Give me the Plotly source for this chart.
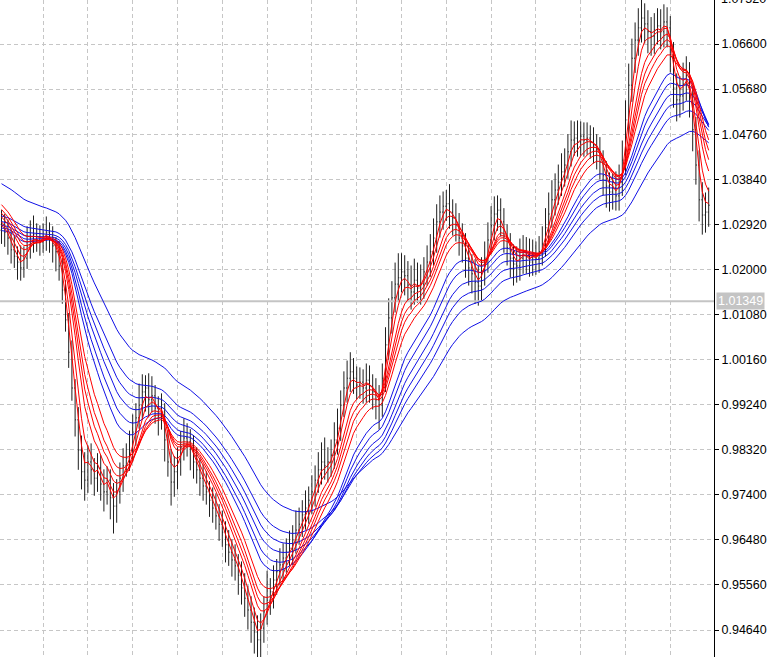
import plotly.graph_objects as go

# ---------------- data ----------------
opens = [
    1.0280, 1.0291, 1.0276, 1.0264, 1.0240, 1.0227, 1.0215, 1.0203, 1.0223, 1.0248,
    1.0264, 1.0272, 1.0260, 1.0256, 1.0268, 1.0276, 1.0260, 1.0248, 1.0236, 1.0207,
    1.0158, 1.0097, 1.0031, 0.9958, 0.9893, 0.9831, 0.9787, 0.9770, 0.9807, 0.9791,
    0.9774, 0.9795, 0.9762, 0.9746, 0.9770, 0.9734, 0.9717, 0.9746, 0.9774, 0.9799,
    0.9815, 0.9831, 0.9868, 0.9897, 0.9923, 0.9950, 0.9958, 0.9934, 0.9942, 0.9917,
    0.9901, 0.9909, 0.9852, 0.9807, 0.9766, 0.9787, 0.9807, 0.9836, 0.9856, 0.9848,
    0.9840, 0.9807, 0.9791, 0.9774, 0.9758, 0.9746, 0.9729, 0.9713, 0.9697, 0.9680,
    0.9664, 0.9638, 0.9623, 0.9607, 0.9595, 0.9576, 0.9550, 0.9529, 0.9505, 0.9480,
    0.9460, 0.9444, 0.9468, 0.9501, 0.9525, 0.9542, 0.9566, 0.9583, 0.9597, 0.9611,
    0.9623, 0.9631, 0.9648, 0.9668, 0.9680, 0.9699, 0.9713, 0.9729, 0.9746, 0.9770,
    0.9791, 0.9807, 0.9799, 0.9807, 0.9821, 0.9852, 0.9876, 0.9923, 0.9958, 0.9978,
    0.9991, 0.9978, 0.9964, 0.9970, 0.9958, 0.9974, 0.9962, 0.9950, 0.9934, 0.9923,
    0.9978, 1.0046, 1.0101, 1.0142, 1.0170, 1.0183, 1.0195, 1.0187, 1.0168, 1.0154,
    1.0178, 1.0162, 1.0170, 1.0195, 1.0215, 1.0236, 1.0264, 1.0297, 1.0317, 1.0329,
    1.0334, 1.0317, 1.0305, 1.0291, 1.0264, 1.0248, 1.0223, 1.0203, 1.0191, 1.0174,
    1.0166, 1.0195, 1.0223, 1.0260, 1.0289, 1.0313, 1.0321, 1.0297, 1.0268, 1.0244,
    1.0223, 1.0211, 1.0207, 1.0223, 1.0236, 1.0227, 1.0215, 1.0231, 1.0223, 1.0236,
    1.0252, 1.0285, 1.0313, 1.0342, 1.0362, 1.0378, 1.0399, 1.0413, 1.0440, 1.0464,
    1.0468, 1.0460, 1.0472, 1.0464, 1.0468, 1.0460, 1.0452, 1.0444, 1.0419, 1.0391,
    1.0370, 1.0358, 1.0366, 1.0350, 1.0378, 1.0423, 1.0505, 1.0576, 1.0631, 1.0668,
    1.0693, 1.0713, 1.0701, 1.0685, 1.0676, 1.0689, 1.0697, 1.0685, 1.0705, 1.0693,
    1.0638, 1.0570, 1.0546, 1.0554, 1.0578, 1.0595, 1.0550, 1.0485, 1.0413, 1.0342,
    1.0311, 1.0317,
]
highs = [
    1.0321, 1.0313, 1.0302, 1.0282, 1.0270, 1.0247, 1.0249, 1.0247, 1.0288, 1.0300,
    1.0310, 1.0294, 1.0290, 1.0294, 1.0308, 1.0296, 1.0288, 1.0266, 1.0258, 1.0223,
    1.0178, 1.0111, 1.0055, 0.9976, 0.9919, 0.9861, 0.9827, 0.9841, 0.9845, 0.9815,
    0.9825, 0.9821, 0.9792, 0.9798, 0.9792, 0.9764, 0.9772, 0.9806, 0.9835, 0.9845,
    0.9871, 0.9904, 0.9927, 0.9967, 0.9986, 0.9984, 0.9988, 0.9982, 0.9964, 0.9941,
    0.9947, 0.9927, 0.9872, 0.9833, 0.9819, 0.9837, 0.9870, 0.9896, 0.9886, 0.9874,
    0.9862, 0.9837, 0.9815, 0.9802, 0.9788, 0.9768, 0.9755, 0.9743, 0.9721, 0.9708,
    0.9686, 0.9668, 0.9649, 0.9639, 0.9619, 0.9604, 0.9580, 0.9555, 0.9533, 0.9510,
    0.9494, 0.9498, 0.9533, 0.9585, 0.9570, 0.9596, 0.9609, 0.9631, 0.9641, 0.9651,
    0.9667, 0.9678, 0.9708, 0.9714, 0.9729, 0.9749, 0.9757, 0.9780, 0.9800, 0.9827,
    0.9847, 0.9857, 0.9837, 0.9853, 0.9888, 0.9916, 0.9953, 0.9992, 1.0014, 1.0031,
    1.0019, 1.0002, 1.0000, 0.9996, 1.0008, 1.0004, 0.9986, 0.9978, 0.9964, 1.0008,
    1.0082, 1.0141, 1.0176, 1.0214, 1.0233, 1.0233, 1.0229, 1.0217, 1.0208, 1.0222,
    1.0214, 1.0210, 1.0225, 1.0249, 1.0272, 1.0304, 1.0333, 1.0351, 1.0359, 1.0362,
    1.0374, 1.0343, 1.0335, 1.0315, 1.0294, 1.0274, 1.0253, 1.0231, 1.0221, 1.0208,
    1.0225, 1.0257, 1.0296, 1.0329, 1.0349, 1.0351, 1.0345, 1.0325, 1.0292, 1.0274,
    1.0251, 1.0247, 1.0263, 1.0270, 1.0266, 1.0263, 1.0261, 1.0257, 1.0268, 1.0288,
    1.0325, 1.0357, 1.0382, 1.0396, 1.0414, 1.0437, 1.0447, 1.0476, 1.0504, 1.0502,
    1.0504, 1.0502, 1.0500, 1.0500, 1.0494, 1.0490, 1.0476, 1.0470, 1.0443, 1.0421,
    1.0398, 1.0396, 1.0400, 1.0414, 1.0463, 1.0545, 1.0620, 1.0671, 1.0704, 1.0733,
    1.0763, 1.0743, 1.0729, 1.0715, 1.0723, 1.0733, 1.0731, 1.0741, 1.0735, 1.0717,
    1.0664, 1.0600, 1.0594, 1.0622, 1.0635, 1.0623, 1.0574, 1.0511, 1.0443, 1.0378,
    1.0357, 1.0367,
]
lows = [
    1.0252, 1.0246, 1.0230, 1.0212, 1.0203, 1.0179, 1.0177, 1.0183, 1.0201, 1.0222,
    1.0234, 1.0236, 1.0228, 1.0234, 1.0238, 1.0234, 1.0214, 1.0196, 1.0177, 1.0130,
    1.0073, 0.9999, 0.9932, 0.9859, 0.9791, 0.9751, 0.9728, 0.9744, 0.9761, 0.9738,
    0.9746, 0.9728, 0.9706, 0.9720, 0.9690, 0.9661, 0.9683, 0.9722, 0.9746, 0.9777,
    0.9789, 0.9807, 0.9840, 0.9875, 0.9893, 0.9910, 0.9898, 0.9908, 0.9885, 0.9861,
    0.9873, 0.9808, 0.9777, 0.9718, 0.9736, 0.9751, 0.9779, 0.9810, 0.9818, 0.9790,
    0.9773, 0.9763, 0.9738, 0.9728, 0.9720, 0.9695, 0.9683, 0.9669, 0.9646, 0.9634,
    0.9602, 0.9595, 0.9573, 0.9565, 0.9536, 0.9516, 0.9491, 0.9465, 0.9438, 0.9416,
    0.9394, 0.9408, 0.9438, 0.9475, 0.9495, 0.9508, 0.9536, 0.9555, 0.9565, 0.9581,
    0.9595, 0.9597, 0.9620, 0.9638, 0.9654, 0.9669, 0.9681, 0.9701, 0.9716, 0.9744,
    0.9761, 0.9771, 0.9765, 0.9777, 0.9793, 0.9822, 0.9850, 0.9899, 0.9928, 0.9950,
    0.9946, 0.9934, 0.9936, 0.9926, 0.9928, 0.9928, 0.9914, 0.9894, 0.9873, 0.9899,
    0.9950, 1.0016, 1.0069, 1.0112, 1.0134, 1.0153, 1.0147, 1.0134, 1.0118, 1.0128,
    1.0132, 1.0128, 1.0140, 1.0167, 1.0185, 1.0208, 1.0234, 1.0265, 1.0281, 1.0299,
    1.0283, 1.0269, 1.0257, 1.0228, 1.0214, 1.0183, 1.0167, 1.0151, 1.0130, 1.0126,
    1.0136, 1.0167, 1.0193, 1.0232, 1.0259, 1.0279, 1.0267, 1.0234, 1.0208, 1.0183,
    1.0167, 1.0173, 1.0177, 1.0191, 1.0191, 1.0185, 1.0187, 1.0189, 1.0193, 1.0208,
    1.0226, 1.0255, 1.0285, 1.0310, 1.0332, 1.0350, 1.0369, 1.0385, 1.0410, 1.0432,
    1.0430, 1.0432, 1.0430, 1.0434, 1.0426, 1.0416, 1.0404, 1.0383, 1.0351, 1.0326,
    1.0318, 1.0322, 1.0320, 1.0320, 1.0350, 1.0393, 1.0475, 1.0542, 1.0601, 1.0636,
    1.0663, 1.0661, 1.0641, 1.0636, 1.0640, 1.0659, 1.0649, 1.0653, 1.0653, 1.0602,
    1.0530, 1.0502, 1.0510, 1.0524, 1.0544, 1.0510, 1.0441, 1.0373, 1.0298, 1.0271,
    1.0275, 1.0287,
]
closes = [
    1.0291, 1.0276, 1.0264, 1.0240, 1.0227, 1.0215, 1.0203, 1.0223, 1.0248, 1.0264,
    1.0272, 1.0260, 1.0256, 1.0268, 1.0276, 1.0260, 1.0248, 1.0236, 1.0207, 1.0158,
    1.0097, 1.0031, 0.9958, 0.9893, 0.9831, 0.9787, 0.9770, 0.9807, 0.9791, 0.9774,
    0.9795, 0.9762, 0.9746, 0.9770, 0.9734, 0.9717, 0.9746, 0.9774, 0.9799, 0.9815,
    0.9831, 0.9868, 0.9897, 0.9923, 0.9950, 0.9958, 0.9934, 0.9942, 0.9917, 0.9901,
    0.9909, 0.9852, 0.9807, 0.9766, 0.9787, 0.9807, 0.9836, 0.9856, 0.9848, 0.9840,
    0.9807, 0.9791, 0.9774, 0.9758, 0.9746, 0.9729, 0.9713, 0.9697, 0.9680, 0.9664,
    0.9638, 0.9623, 0.9607, 0.9595, 0.9576, 0.9550, 0.9529, 0.9505, 0.9480, 0.9460,
    0.9444, 0.9468, 0.9501, 0.9525, 0.9542, 0.9566, 0.9583, 0.9597, 0.9611, 0.9623,
    0.9631, 0.9648, 0.9668, 0.9680, 0.9699, 0.9713, 0.9729, 0.9746, 0.9770, 0.9791,
    0.9807, 0.9799, 0.9807, 0.9821, 0.9852, 0.9876, 0.9923, 0.9958, 0.9978, 0.9991,
    0.9978, 0.9964, 0.9970, 0.9958, 0.9974, 0.9962, 0.9950, 0.9934, 0.9923, 0.9978,
    1.0046, 1.0101, 1.0142, 1.0170, 1.0183, 1.0195, 1.0187, 1.0168, 1.0154, 1.0178,
    1.0162, 1.0170, 1.0195, 1.0215, 1.0236, 1.0264, 1.0297, 1.0317, 1.0329, 1.0334,
    1.0317, 1.0305, 1.0291, 1.0264, 1.0248, 1.0223, 1.0203, 1.0191, 1.0174, 1.0166,
    1.0195, 1.0223, 1.0260, 1.0289, 1.0313, 1.0321, 1.0297, 1.0268, 1.0244, 1.0223,
    1.0211, 1.0207, 1.0223, 1.0236, 1.0227, 1.0215, 1.0231, 1.0223, 1.0236, 1.0252,
    1.0285, 1.0313, 1.0342, 1.0362, 1.0378, 1.0399, 1.0413, 1.0440, 1.0464, 1.0468,
    1.0460, 1.0472, 1.0464, 1.0468, 1.0460, 1.0452, 1.0444, 1.0419, 1.0391, 1.0370,
    1.0358, 1.0366, 1.0350, 1.0378, 1.0423, 1.0505, 1.0576, 1.0631, 1.0668, 1.0693,
    1.0713, 1.0701, 1.0685, 1.0676, 1.0689, 1.0697, 1.0685, 1.0705, 1.0693, 1.0638,
    1.0570, 1.0546, 1.0554, 1.0578, 1.0595, 1.0550, 1.0485, 1.0413, 1.0342, 1.0311,
    1.0317, 1.0331,
]

# Guppy-style moving averages (EMA periods) and their values just before the first visible bar
short_periods = [3, 5, 8, 10, 12, 15]
short_seeds = [1.0290, 1.0300, 1.0312, 1.0320, 1.0328, 1.0338]
long_periods = [22, 26, 31, 36, 42, 55]
long_seeds = [1.0278, 1.0284, 1.0290, 1.0298, 1.0310, 1.0378]

current_price = 1.01349
price_tick0 = 0.9464
price_step = 0.0092
top_cut_label = 1.0752

# ---------------- build ----------------
n = len(closes)
x = list(range(n))


def ema(values, period, seed):
    a = 2.0 / (period + 1)
    out, prev = [], seed
    for v in values:
        prev = prev + a * (v - prev)
        out.append(prev)
    return out


FONT = "Liberation Sans, Arial, sans-serif"
fig = go.Figure()

# current price line (behind everything)
fig.add_trace(go.Scatter(
    x=[-1, n + 2], y=[current_price, current_price], mode="lines",
    line=dict(color="#c4c4c4", width=2), hoverinfo="skip", showlegend=False,
))

fig.add_trace(go.Ohlc(
    x=x, open=opens, high=highs, low=lows, close=closes,
    increasing=dict(line=dict(color="#1e1e1e", width=1)),
    decreasing=dict(line=dict(color="#1e1e1e", width=1)),
    tickwidth=0.3, hoverinfo="skip", showlegend=False,
))

for p, s in zip(long_periods, long_seeds):
    fig.add_trace(go.Scatter(
        x=x, y=ema(closes, p, s), mode="lines",
        line=dict(color="#1010e6", width=1), hoverinfo="skip", showlegend=False,
    ))
for p, s in zip(short_periods, short_seeds):
    fig.add_trace(go.Scatter(
        x=x, y=ema(closes, p, s), mode="lines",
        line=dict(color="#ff0000", width=1), hoverinfo="skip", showlegend=False,
    ))

W, H = 768, 657
plot_w = 714
bar_px = 3.2
x0 = -0.47
y_lo, y_hi = 0.94090, 1.07498

fig.update_layout(
    width=W, height=H,
    margin=dict(l=0, r=W - plot_w, t=0, b=0),
    paper_bgcolor="white", plot_bgcolor="white",
    showlegend=False,
    font=dict(family=FONT, size=12.5, color="#000000"),
    xaxis=dict(
        range=[x0, x0 + plot_w / bar_px], showticklabels=False, ticks="",
        showgrid=True, gridcolor="#c6c6c6", gridwidth=1, griddash="4px,3px",
        tick0=13, dtick=14, zeroline=False, showline=False,
        rangeslider=dict(visible=False), fixedrange=True,
    ),
    yaxis=dict(
        range=[y_lo, y_hi], side="right", tick0=price_tick0, dtick=price_step,
        tickformat=".5f", ticks="outside", ticklen=4, tickcolor="#000000",
        showline=True, linecolor="#000000", linewidth=1,
        showgrid=True, gridcolor="#c6c6c6", gridwidth=1, griddash="4px,3px",
        zeroline=False, fixedrange=True,
        tickfont=dict(family=FONT, size=12.5, color="#000000"),
    ),
)

# current price label box on the axis
fig.add_annotation(
    xref="paper", yref="y", x=1.0, y=current_price, xanchor="left", yanchor="middle",
    xshift=2, text=f"{current_price:.5f}", showarrow=False,
    bgcolor="#c4c4c4", borderpad=1,
    font=dict(family=FONT, size=12.5, color="#ffffff"),
)

# partially cut top label
fig.add_annotation(
    xref="paper", yref="paper", x=1.0, y=1 + (top_cut_label - y_hi) / (y_hi - y_lo),
    xanchor="left", yanchor="middle", xshift=5, text=f"{top_cut_label:.5f}",
    showarrow=False,
    font=dict(family=FONT, size=12.5, color="#000000"),
)

fig.write_html(
    "out.html",
    config={"displayModeBar": False, "staticPlot": True},
    post_script="document.body.style.margin='0';document.body.style.overflow='hidden';",
)
